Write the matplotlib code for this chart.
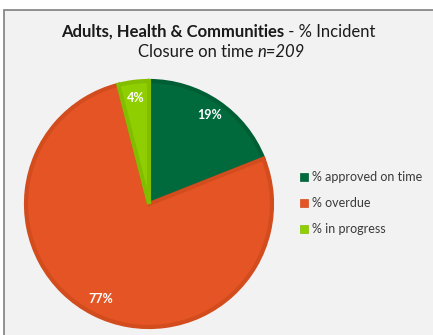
import matplotlib.pyplot as plt
from matplotlib.patches import Rectangle, Patch

# Incident closure status, share of all incidents
categories = ['% approved on time', '% overdue', '% in progress']
shares = [19, 77, 4]
colors = ['#006a3d', '#e55424', '#8fce00']
edge_colors = ['#005e35', '#d24c1e', '#82bd00']
sample_size = 209

W, H = 433, 335
fig = plt.figure(figsize=(W / 100, H / 100), dpi=100)
fig.patch.set_facecolor('white')

# chart area panel with grey outline
fig.patches.append(Rectangle((4 / W, -0.1), 1.2, (H - 10) / H + 0.1,
                             transform=fig.transFigure, facecolor='#f2f2f2',
                             edgecolor='#7f7f7f', linewidth=1.2, zorder=-5))

plt.rcParams['font.family'] = ['Lato', 'DejaVu Sans']

# pie
cx, cy, r = 149, H - 204, 123
ax = fig.add_axes([(cx - r) / W, (cy - r) / H, 2 * r / W, 2 * r / H])
wedges, texts, autotexts = ax.pie(
    shares, colors=colors, startangle=90, counterclock=False,
    autopct='%d%%', pctdistance=0.87,
    wedgeprops=dict(linewidth=3),
    textprops=dict(color='white', fontsize=9, fontweight='bold'))
for w, ec in zip(wedges, edge_colors):
    w.set_edgecolor(ec)
ax.set_xlim(-1, 1)
ax.set_ylim(-1, 1)
ax.set_aspect('auto')
ax.axis('off')

# title: bold part and regular part on line one, italic n on line two
renderer = fig.canvas.get_renderer()
tsize = 12
y1 = 1 - 32 / H
y2 = 1 - 52 / H
t_bold = fig.text(0, y1, 'Adults, Health & Communities', fontsize=tsize,
                  fontweight='bold', va='center', color='#1a1a1a')
t_reg = fig.text(0, y1, ' - % Incident', fontsize=tsize, va='center', color='#1a1a1a')
wb = t_bold.get_window_extent(renderer).width
wr = t_reg.get_window_extent(renderer).width
x0 = (218 - (wb + wr) / 2)
t_bold.set_x(x0 / W)
t_reg.set_x((x0 + wb) / W)

t_c = fig.text(0, y2, 'Closure on time ', fontsize=tsize, va='center', color='#1a1a1a')
t_n = fig.text(0, y2, f'n={sample_size}', fontsize=tsize, style='italic',
               va='center', color='#1a1a1a')
wc = t_c.get_window_extent(renderer).width
wn = t_n.get_window_extent(renderer).width
x0 = (221 - (wc + wn) / 2)
t_c.set_x(x0 / W)
t_n.set_x((x0 + wc) / W)

# legend
handles = [Patch(facecolor=c, edgecolor=ec, linewidth=0.5)
           for c, ec in zip(colors, edge_colors)]
fig.legend(handles, categories, loc='upper left',
           bbox_to_anchor=(289 / W, 1 - 160 / H), frameon=False,
           fontsize=9, handlelength=0.65, handleheight=0.65,
           handletextpad=0.3, labelspacing=1.12, labelcolor='#3a3a3a')

fig.savefig('out.png', dpi=100, facecolor='white')
